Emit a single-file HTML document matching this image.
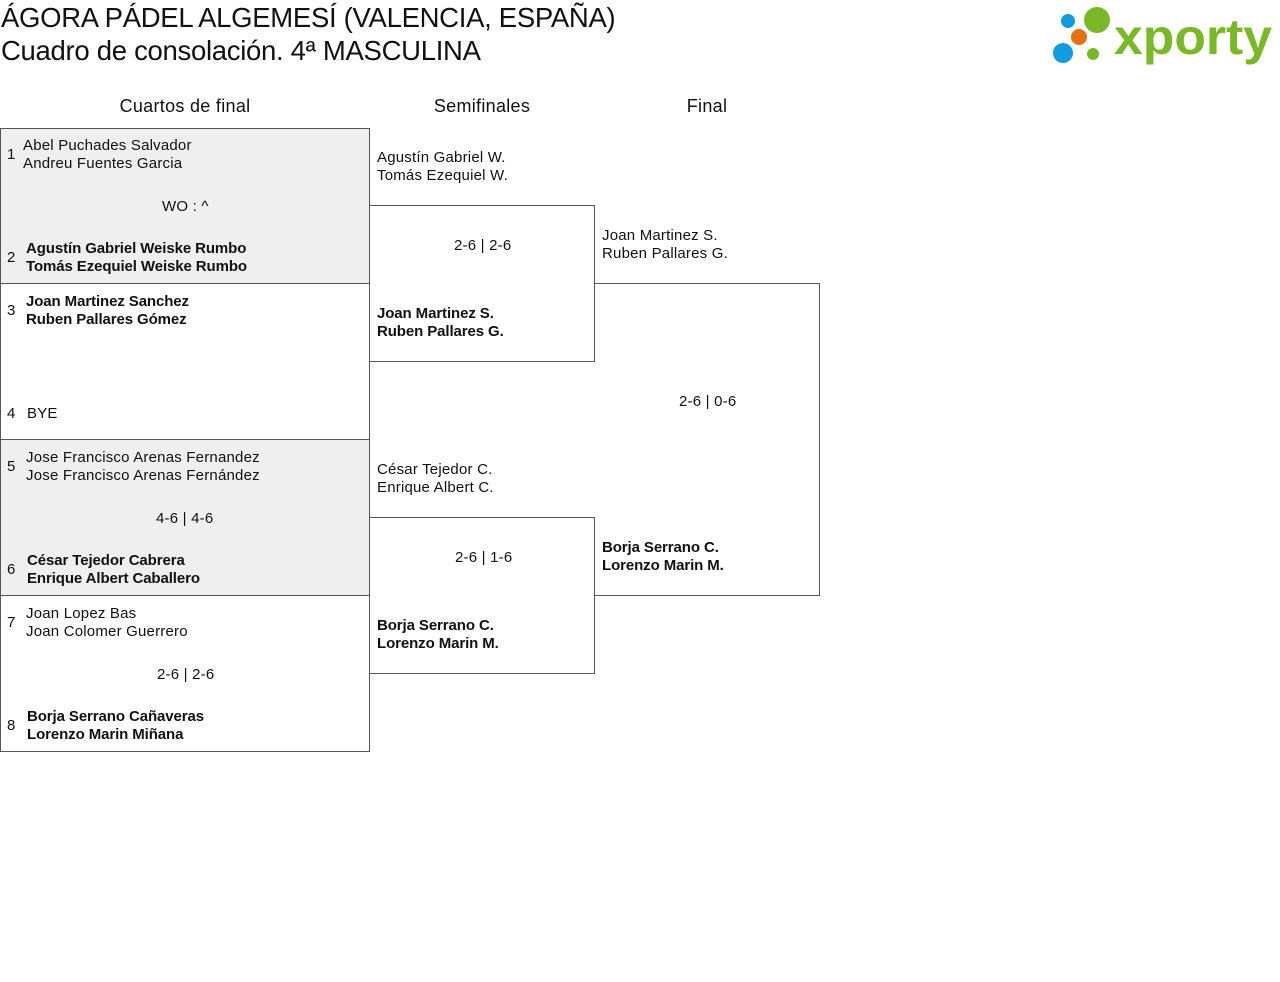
<!DOCTYPE html>
<html><head><meta charset="utf-8"><style>
body{margin:0;width:1280px;height:982px;background:#fff;font-family:"Liberation Sans",sans-serif;color:#111;position:relative;overflow:hidden}
.a{position:absolute;white-space:nowrap}
.t{font-size:15px;line-height:18px;letter-spacing:0.2px;margin-top:1px}
.b{font-weight:bold;letter-spacing:-0.1px;font-size:15px}
.box{position:absolute;border:1px solid #555;box-sizing:border-box}
.g{background:#efefef}
.h{font-size:18px;text-align:center;width:300px;letter-spacing:0.3px}
.n{font-size:15px;margin-top:1px}
</style></head><body>
<div class="a" style="left:1px;top:1px;font-size:27.5px;line-height:33px;letter-spacing:-0.3px">ÁGORA PÁDEL ALGEMESÍ (VALENCIA, ESPAÑA)<br>Cuadro de consolación. 4ª MASCULINA</div>
<svg class="a" style="left:1050px;top:4px" width="226" height="62">
<circle cx="18" cy="17" r="7" fill="#0f9de0"/><circle cx="47" cy="16" r="13" fill="#7ab828"/>
<circle cx="29" cy="33" r="8" fill="#e5700f"/><circle cx="13" cy="49" r="10" fill="#0f9de0"/>
<circle cx="43" cy="50" r="6" fill="#7ab828"/>
<text x="64" y="50" font-family="Liberation Sans" font-weight="bold" font-size="50" fill="#7ab828" textLength="158" lengthAdjust="spacingAndGlyphs">xporty</text></svg>
<div class="a h" style="left:35px;top:96px">Cuartos de final</div>
<div class="a h" style="left:332px;top:96px">Semifinales</div>
<div class="a h" style="left:557px;top:96px">Final</div>

<div class="box g" style="left:0;top:128px;width:370px;height:156px"></div>
<div class="box" style="left:0;top:283px;width:370px;height:157px"></div>
<div class="box g" style="left:0;top:439px;width:370px;height:157px"></div>
<div class="box" style="left:0;top:595px;width:370px;height:157px"></div>
<div class="box" style="left:369px;top:205px;width:226px;height:157px"></div>
<div class="box" style="left:369px;top:517px;width:226px;height:157px"></div>
<div class="box" style="left:594px;top:283px;width:226px;height:313px;border-left:none"></div>

<div class="a n" style="left:7px;top:145px">1</div>
<div class="a t" style="left:23px;top:136px">Abel Puchades Salvador<br>Andreu Fuentes Garcia</div>
<div class="a t" style="left:162px;top:197px">WO : ^</div>
<div class="a n" style="left:7px;top:248px">2</div>
<div class="a t b" style="left:26px;top:239px">Agustín Gabriel Weiske Rumbo<br>Tomás Ezequiel Weiske Rumbo</div>

<div class="a n" style="left:7px;top:301px">3</div>
<div class="a t b" style="left:26px;top:292px">Joan Martinez Sanchez<br>Ruben Pallares Gómez</div>
<div class="a n" style="left:7px;top:404px">4</div>
<div class="a t" style="left:27px;top:404px">BYE</div>

<div class="a n" style="left:7px;top:457px">5</div>
<div class="a t" style="left:26px;top:448px">Jose Francisco Arenas Fernandez<br>Jose Francisco Arenas Fernández</div>
<div class="a t" style="left:156px;top:509px">4-6 | 4-6</div>
<div class="a n" style="left:7px;top:560px">6</div>
<div class="a t b" style="left:27px;top:551px">César Tejedor Cabrera<br>Enrique Albert Caballero</div>

<div class="a n" style="left:7px;top:613px">7</div>
<div class="a t" style="left:26px;top:604px">Joan Lopez Bas<br>Joan Colomer Guerrero</div>
<div class="a t" style="left:157px;top:665px">2-6 | 2-6</div>
<div class="a n" style="left:7px;top:716px">8</div>
<div class="a t b" style="left:27px;top:707px">Borja Serrano Cañaveras<br>Lorenzo Marin Miñana</div>

<div class="a t" style="left:377px;top:148px">Agustín Gabriel W.<br>Tomás Ezequiel W.</div>
<div class="a t" style="left:454px;top:236px">2-6 | 2-6</div>
<div class="a t b" style="left:377px;top:304px">Joan Martinez S.<br>Ruben Pallares G.</div>
<div class="a t" style="left:377px;top:460px">César Tejedor C.<br>Enrique Albert C.</div>
<div class="a t" style="left:455px;top:548px">2-6 | 1-6</div>
<div class="a t b" style="left:377px;top:616px">Borja Serrano C.<br>Lorenzo Marin M.</div>

<div class="a t" style="left:602px;top:226px">Joan Martinez S.<br>Ruben Pallares G.</div>
<div class="a t" style="left:679px;top:392px">2-6 | 0-6</div>
<div class="a t b" style="left:602px;top:538px">Borja Serrano C.<br>Lorenzo Marin M.</div>
</body></html>
